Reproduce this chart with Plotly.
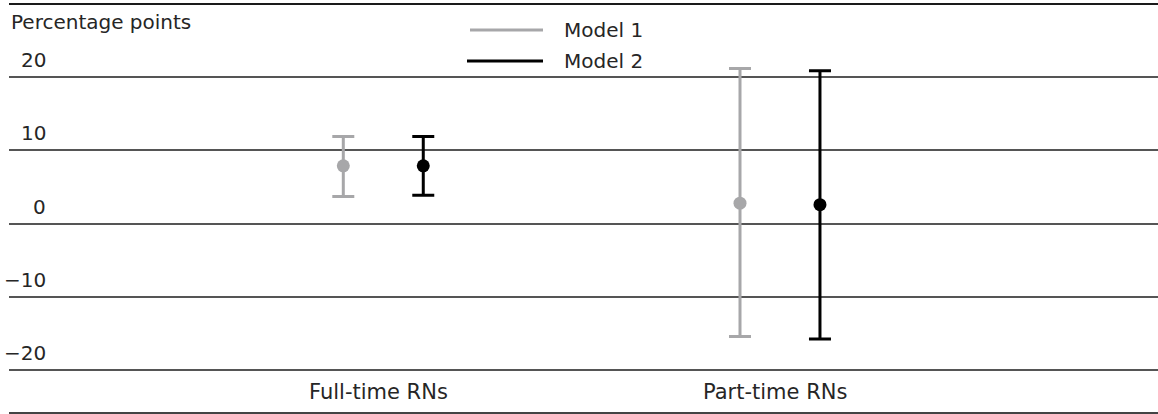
import plotly.graph_objects as go

# Estimated effect (percentage points) with confidence interval bounds
categories = ["Full-time RNs", "Part-time RNs"]
models = ["Model 1", "Model 2"]
estimate = {"Model 1": [7.9, 2.8], "Model 2": [7.9, 2.6]}
upper = {"Model 1": [11.9, 21.2], "Model 2": [11.9, 20.9]}
lower = {"Model 1": [3.7, -15.4], "Model 2": [3.9, -15.75]}
y_ticks = [20, 10, 0, -10, -20]
y_tick_text = ["20", "10", "0", "\u221210", "\u221220"]
y_title = "Percentage points"

colors = {"Model 1": "#A7A7A9", "Model 2": "#000000"}
offsets = {"Model 1": -0.1008, "Model 2": 0.1008}
FONT = "DejaVu Sans"
TEXT = "#262626"

W, H = 1158, 414
ML, MR, MT, MB = 9, 0, 4, 1
PW, PH = W - ML - MR, H - MT - MB


def px(xp):
    return (xp - ML) / PW


def py(yp):
    return (H - MB - yp) / PH


fig = go.Figure()
for m in models:
    xs = [i + offsets[m] for i in range(len(categories))]
    fig.add_trace(go.Scatter(
        x=xs, y=estimate[m], mode="markers", name=m, showlegend=False,
        marker=dict(color=colors[m], size=13, line=dict(width=0)),
        error_y=dict(
            type="data", symmetric=False,
            array=[u - e for u, e in zip(upper[m], estimate[m])],
            arrayminus=[e - l for e, l in zip(estimate[m], lower[m])],
            color=colors[m], thickness=3, width=11,
        ),
    ))

annotations = []
# y tick labels sitting above each gridline
for v, t in zip(y_ticks, y_tick_text):
    annotations.append(dict(
        x=px(48), xref="paper", y=v, yref="y", text=t, showarrow=False,
        xanchor="right", yanchor="middle", yshift=17,
        font=dict(family=FONT, size=20, color=TEXT),
    ))
annotations.append(dict(
    x=px(9), xref="paper", y=30, yref="y", text=y_title, showarrow=False,
    xanchor="left", yanchor="middle", yshift=-18,
    font=dict(family=FONT, size=20, color=TEXT),
))
# category labels inside the plot, above the bottom rule
for i, c in enumerate(categories):
    annotations.append(dict(
        x=i, xref="x", y=0, yref="paper", text=c, showarrow=False,
        xanchor="center", yanchor="middle", yshift=21, xshift=-5,
        font=dict(family=FONT, size=21, color=TEXT),
    ))

# legend drawn as line samples with labels
legend_rows = [("Model 1", 30, 470), ("Model 2", 61, 467)]
shapes = []
for m, yrow, x0 in legend_rows:
    shapes.append(dict(type="line", xref="paper", yref="paper",
                       x0=px(x0), x1=px(543), y0=py(yrow), y1=py(yrow),
                       line=dict(color=colors[m], width=3)))
    annotations.append(dict(
        x=px(562), xref="paper", y=py(yrow), yref="paper", text=m,
        showarrow=False, xanchor="left", yanchor="middle",
        font=dict(family=FONT, size=20, color=TEXT),
    ))

# top and bottom rules
shapes.append(dict(type="line", xref="paper", yref="paper", x0=0, x1=1,
                   y0=1, y1=1, line=dict(color="#1a1a1a", width=2)))
shapes.append(dict(type="line", xref="paper", yref="paper", x0=0, x1=1,
                   y0=0, y1=0, line=dict(color="#444444", width=2)))

fig.update_layout(
    width=W, height=H,
    margin=dict(l=ML, r=MR, t=MT, b=MB, pad=0),
    paper_bgcolor="white", plot_bgcolor="white",
    showlegend=False,
    xaxis=dict(range=[-0.9435, 1.9529], showgrid=False, zeroline=False,
               showticklabels=False, showline=False, fixedrange=True),
    yaxis=dict(range=[-25.85, 30], tickvals=y_ticks, showticklabels=False,
               showgrid=True, gridcolor="#555555", gridwidth=2,
               zeroline=False, showline=False, fixedrange=True),
    shapes=shapes,
    annotations=annotations,
)

fig.write_html("out.html", config={"displayModeBar": False})
